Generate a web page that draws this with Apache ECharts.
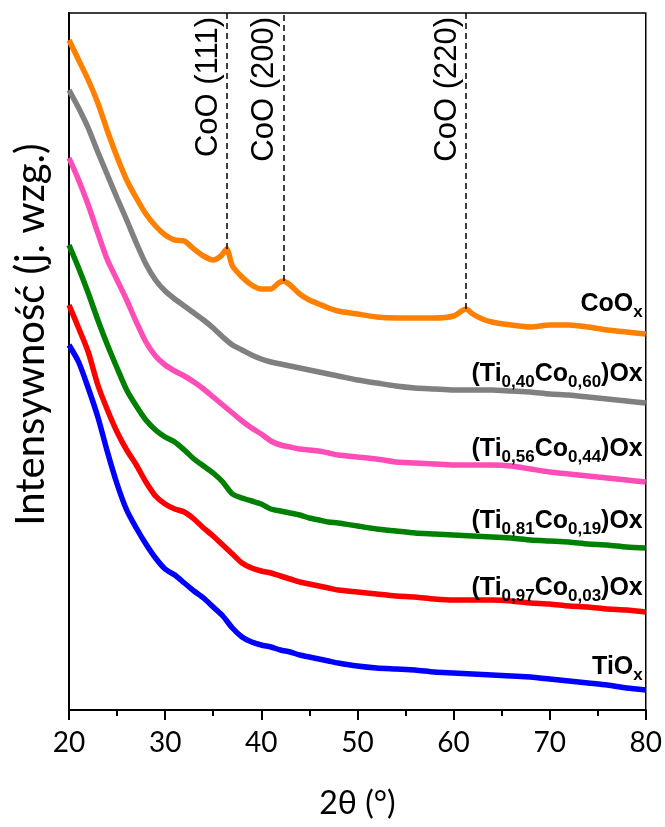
<!DOCTYPE html>
<html><head><meta charset="utf-8">
<script src="https://cdn.jsdelivr.net/npm/echarts@6/dist/echarts.min.js"></script>
<style>html,body{margin:0;padding:0;background:#fff}#c{width:665px;height:827px}</style>
</head><body><div id="c"></div>
<script>
// 2θ grid shared by the Ti-containing samples
const thetaGrid = [20,21,22,23,24,25,26,27,28,29,30,31,32,33,34,35,36,37,38,39,40,41,42,43,44,45,46,47,48,50,52,54,56,58,60,62,64,66,68,70,72,74,76,78,80];
const tiOx      = [365,348,322,293,258,226,200,182,166,152,141,135,127,119,112,103,94,82,73,68,65,63,60,58,55,53,51,49,47,44,42,41,40,38,37,36,35,34,33,31,29,27,25,22,20];
const ti97co03  = [405,382,358,325,300,278,260,245,228,214,206,201,198,191,182,174,165,156,147,142,139,137,134,131,128,126,124,122,120,118,116,114,113,111,110,110,110,109,107,106,104,103,101,100,98];
const ti81co19  = [465,442,417,390,365,342,320,304,290,280,273,268,260,251,244,237,228,216,212,209,206,201,199,197,195,192,190,188,187,184,181,179,177,176,175,174,173,172,170,169,168,166,165,163,162];
const ti56co44  = [552,530,505,477,450,430,410,388,368,354,345,339,334,328,321,313,305,297,289,282,276,269,265,263,261,260,259,257,255,253,251,248,247,246,245,245,245,244,241,238,236,234,232,230,228];
const ti40co60  = [620,602,582,558,535,512,490,467,446,430,419,411,404,397,390,382,373,365,360,355,351,348,346,344,342,340,338,336,334,330,327,324,322,321,320,320,320,319,318,316,315,313,311,309,307];
// CoOx has its own 2θ points (denser near the peaks)
const thetaCoO  = [20,21,22,23,24,25,26,27,28,29,30,31,32,33,34,35,35.8,36.4,37,38,39,40,41,41.8,42.3,43,44,45,46,47,48,50,52,54,56,58,60,61.3,62,63,64,66,68,70,72,74,76,78,80];
const coOx      = [670,650,630,607,579,553,530,512,496,484,475,470,469,461,454,450,454,461,444,433,425,421,421,427,429,425,416,410,406,402,399,396,393,392,392,392,394,401,396,391,388,385,383,385,385,383,380,378,376];
// reference peaks
const peakTheta  = [36.4, 42.3, 61.3];
const peakLabels = ['CoO (111)', 'CoO (200)', 'CoO (220)'];
// axis ranges
const xMin = 20, xMax = 80, xStep = 10;
const yMin = 0, yMax = 697;

const pair = (xs, ys) => xs.map((x, i) => [x, ys[i]]);
const chart = echarts.init(document.getElementById('c'));

const labelFont = '"Liberation Sans", Arial, sans-serif';
const axisFont = 'Lato, "Open Sans", sans-serif';
const rich = {
  m: {fontFamily: labelFont, fontWeight: 'bold', fontSize: 25, color: '#000', lineHeight: 20, verticalAlign: 'top'},
  s: {fontFamily: labelFont, fontWeight: 'bold', fontSize: 17, color: '#000', lineHeight: 17, verticalAlign: 'top', padding: [12, 0, 0, 0]}
};
function mkSeries(name, data, color, label, dy) {
  return {
    name, type: 'line', data, showSymbol: false, symbol: 'none', smooth: 0.25,
    lineStyle: {color, width: 5.5}, itemStyle: {color},
    endLabel: {show: true, formatter: label, rich, align: 'right', verticalAlign: 'bottom', offset: [-11, dy]},
    animation: false
  };
}
const orangeVal = (t) => coOx[thetaCoO.indexOf(t)];
const coSeries = mkSeries('CoOx', pair(thetaCoO, coOx), '#ff8000', '{m|CoO}{s|x}', -22);
coSeries.markLine = {
  silent: true, symbol: 'none', animation: false,
  lineStyle: {color: '#000', type: [6, 4], width: 1.5},
  label: {show: false},
  data: peakTheta.map((t) => [
    {coord: [t, orangeVal(t)]},
    {coord: [t, yMax]}
  ]),
};

const option = {
  backgroundColor: '#fff',
  grid: {left: 69, right: 17, top: 13, bottom: 117, show: true, borderColor: '#000', borderWidth: 1.5},
  xAxis: {
    type: 'value', min: xMin, max: xMax, interval: xStep,
    name: '2θ (°)', nameLocation: 'middle', nameGap: 78,
    nameTextStyle: {fontFamily: axisFont, fontSize: 32, color: '#000'},
    axisLine: {lineStyle: {color: '#000', width: 2}},
    axisTick: {show: true, inside: false, length: 10, lineStyle: {color: '#000', width: 2}},
    minorTick: {show: true, splitNumber: 2, length: 6, lineStyle: {color: '#000', width: 2}},
    axisLabel: {fontFamily: axisFont, fontSize: 28, color: '#000', margin: 19},
    splitLine: {show: false}
  },
  yAxis: {
    type: 'value', min: yMin, max: yMax,
    name: 'Intensywność (j. wzg.)', nameLocation: 'middle', nameGap: 18, nameRotate: 90,
    nameTextStyle: {fontFamily: axisFont, fontSize: 40, color: '#000', padding: [0, 0, 0, 54]},
    axisLine: {show: true, lineStyle: {color: '#000', width: 2}},
    axisTick: {show: false}, axisLabel: {show: false}, splitLine: {show: false}
  },
  series: [
    mkSeries('TiOx', pair(thetaGrid, tiOx), '#0000ff', '{m|TiO}{s|x}', -15),
    mkSeries('Ti0.97Co0.03', pair(thetaGrid, ti97co03), '#ff0000', '{m|(Ti}{s|0,97}{m|Co}{s|0,03}{m|)Ox}', -16),
    mkSeries('Ti0.81Co0.19', pair(thetaGrid, ti81co19), '#008000', '{m|(Ti}{s|0,81}{m|Co}{s|0,19}{m|)Ox}', -19),
    mkSeries('Ti0.56Co0.44', pair(thetaGrid, ti56co44), '#ff4db8', '{m|(Ti}{s|0,56}{m|Co}{s|0,44}{m|)Ox}', -25),
    mkSeries('Ti0.40Co0.60', pair(thetaGrid, ti40co60), '#808080', '{m|(Ti}{s|0,40}{m|Co}{s|0,60}{m|)Ox}', -21),
    coSeries
  ]
};
chart.setOption(option);

// peak labels, rotated, anchored to the top of each dashed line
const peakGraphics = peakTheta.map((t, i) => {
  const p = chart.convertToPixel({gridIndex: 0}, [t, yMax]);
  return {
    type: 'text', x: p[0] - 3, y: p[1] + 4, rotation: Math.PI / 2, silent: true,
    style: {text: peakLabels[i], fontFamily: labelFont, fontSize: 31, fill: '#000', align: 'right', verticalAlign: 'bottom'}
  };
});
chart.setOption({graphic: peakGraphics});
</script></body></html>
